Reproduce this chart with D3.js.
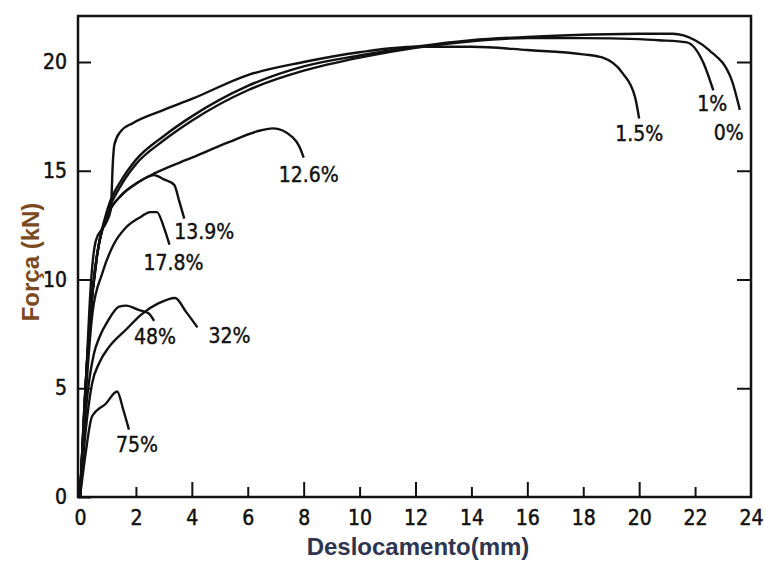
<!DOCTYPE html>
<html>
<head>
<meta charset="utf-8">
<script src="https://cdn.jsdelivr.net/npm/d3@7"></script>
<style>
  body { margin: 0; background: #fff; }
  svg { display: block; }
  .tick text { font-family: "DejaVu Sans Condensed", "Liberation Sans Narrow", "DejaVu Sans", sans-serif; font-size: 21px; fill: #111; stroke: #111; stroke-width: 0.5px; }
  .lbl { font-family: "DejaVu Sans Condensed", "Liberation Sans Narrow", "DejaVu Sans", sans-serif; font-size: 21px; fill: #111; stroke: #111; stroke-width: 0.4px; }
  .title { font-family: "Liberation Sans", Arial, sans-serif; font-weight: bold; font-size: 24px; }
</style>
</head>
<body>
<svg></svg>
<script>
// Curves: [displacement mm, force kN]
const curve0 = [[0,0],[0.15,4],[0.35,8],[0.6,11],[1.0,13.3],[1.5,14.6],[2,15.5],[3,16.6],[4,17.5],[6,18.9],[8,19.8],[10,20.3],[12,20.7],[14,21.0],[16,21.15],[18,21.25],[20,21.3],[21.2,21.3],[22,21.0],[22.5,20.55],[23.3,19.2],[23.6,17.8]];
const curve1 = [[0,0],[0.15,4],[0.35,8],[0.6,11],[1.0,13.1],[1.5,14.4],[2,15.3],[3,16.4],[4,17.3],[6,18.7],[8,19.6],[10,20.2],[12,20.65],[14,20.95],[16,21.1],[18,21.1],[20,21.05],[20.7,21.0],[21.7,20.9],[22.3,19.95],[22.65,18.7]];
const curve15 = [[0,0],[0.2,5],[0.4,10],[0.57,11.8],[0.93,12.6],[1.1,13.2],[1.18,15.5],[1.23,16.2],[1.45,16.8],[1.9,17.2],[3,17.8],[4,18.3],[6,19.4],[8,20.0],[10,20.45],[12,20.7],[14,20.7],[16,20.55],[18,20.35],[18.7,20.2],[19.4,19.5],[19.85,18.4],[20.0,17.4]];
const curve126 = [[0,0],[0.2,5],[0.45,9.5],[0.7,11.8],[1.0,13.0],[1.5,13.9],[2,14.4],[2.7,14.9],[4,15.6],[5.3,16.3],[6.3,16.8],[6.9,16.95],[7.6,16.55],[7.85,16.1],[8.0,15.6]];
const curve139 = [[0,0],[0.2,5],[0.45,9.5],[0.7,11.8],[1.0,13.0],[1.5,13.9],[2,14.4],[2.65,14.8],[3.0,14.6],[3.37,14.35],[3.55,13.6],[3.73,12.8]];
const curve178 = [[0,0],[0.2,4.5],[0.45,8.5],[0.8,10.3],[1.2,11.6],[1.65,12.4],[2.2,12.9],[2.5,13.1],[2.75,13.1],[3.0,12.4],[3.2,11.6]];
const curve32 = [[0,0],[0.2,3],[0.43,5.2],[0.7,6.2],[1.04,6.9],[1.65,7.7],[2.2,8.4],[2.8,8.9],[3.4,9.15],[3.8,8.5],[4.2,7.8]];
const curve48 = [[0,0],[0.25,4.5],[0.5,6.6],[0.68,7.3],[1.0,8.1],[1.4,8.75],[1.65,8.8],[2.1,8.6],[2.45,8.45],[2.65,8.1]];
const curve75 = [[0,0],[0.2,2],[0.43,3.7],[0.93,4.3],[1.33,4.85],[1.55,4.0],[1.75,3.1]];

const curves = [curve0, curve1, curve15, curve126, curve139, curve178, curve32, curve48, curve75];
const curveLabels = ["0%", "1%", "1.5%", "12.6%", "13.9%", "17.8%", "32%", "48%", "75%"];

const xTicks = [0, 2, 4, 6, 8, 10, 12, 14, 16, 18, 20, 22, 24];
const yTicks = [0, 5, 10, 15, 20];

// label offsets from each curve's end point, in pixels
const labelOffsets = [[-11, 30], [-1, 21], [0, 22], [5, 24], [20, 20], [4, 25], [32, 16], [1, 23], [8, 22]];

const width = 765;
const height = 562;
const frame = { left: 78, right: 751, top: 16, bottom: 497 };

const svg = d3.select("svg")
  .attr("width", width)
  .attr("height", height);

const x = d3.scaleLinear().domain([0, 24]).range([80, frame.right]);
const y = d3.scaleLinear().domain([0, 20]).range([frame.bottom, 62]);

// frame
svg.append("rect")
  .attr("x", frame.left).attr("y", frame.top)
  .attr("width", frame.right - frame.left).attr("height", frame.bottom - frame.top)
  .attr("fill", "none").attr("stroke", "#111").attr("stroke-width", 2.5);

// bottom axis, ticks pointing inward
const xAxis = svg.append("g")
  .attr("transform", `translate(0, ${frame.bottom})`)
  .call(d3.axisBottom(x).tickValues(xTicks).tickSizeInner(-10).tickSizeOuter(0).tickPadding(13));
xAxis.select(".domain").remove();
xAxis.selectAll(".tick line")
  .attr("y2", d => (d === 0 || d === 24) ? 0 : (d % 4 === 0 ? -15 : -10))
  .attr("stroke", "#111").attr("stroke-width", 2);

// left axis
const yAxis = svg.append("g")
  .attr("transform", `translate(${frame.left}, 0)`)
  .call(d3.axisLeft(y).tickValues(yTicks).tickSizeInner(-13).tickSizeOuter(0).tickPadding(11));
yAxis.select(".domain").remove();
yAxis.selectAll(".tick line").attr("stroke", "#111").attr("stroke-width", 2);

// right axis, marks only
const yAxisR = svg.append("g")
  .attr("transform", `translate(${frame.right}, 0)`)
  .call(d3.axisRight(y).tickValues(yTicks.slice(1)).tickSizeInner(-14).tickSizeOuter(0).tickFormat(""));
yAxisR.select(".domain").remove();
yAxisR.selectAll(".tick line").attr("stroke", "#111").attr("stroke-width", 2);

// curves
const line = d3.line()
  .x(d => x(d[0]))
  .y(d => y(d[1]))
  .curve(d3.curveMonotoneX);

svg.append("g").selectAll("path")
  .data(curves)
  .enter()
  .append("path")
  .attr("d", line)
  .attr("fill", "none")
  .attr("stroke", "#111")
  .attr("stroke-width", 2.4)
  .attr("stroke-linejoin", "round");

// curve labels
svg.append("g").selectAll("text")
  .data(curves)
  .enter()
  .append("text")
  .attr("class", "lbl")
  .attr("text-anchor", "middle")
  .attr("x", (d, i) => x(d[d.length - 1][0]) + labelOffsets[i][0])
  .attr("y", (d, i) => y(d[d.length - 1][1]) + labelOffsets[i][1])
  .text((d, i) => curveLabels[i]);

// axis titles
svg.append("text")
  .attr("class", "title")
  .attr("fill", "#2d3550")
  .attr("text-anchor", "middle")
  .attr("x", 418).attr("y", 555)
  .text("Deslocamento(mm)");

svg.append("text")
  .attr("class", "title")
  .attr("fill", "#7a4a1e")
  .attr("text-anchor", "middle")
  .attr("transform", "translate(39, 262) rotate(-90)")
  .text("Força (kN)");
</script>
</body>
</html>
